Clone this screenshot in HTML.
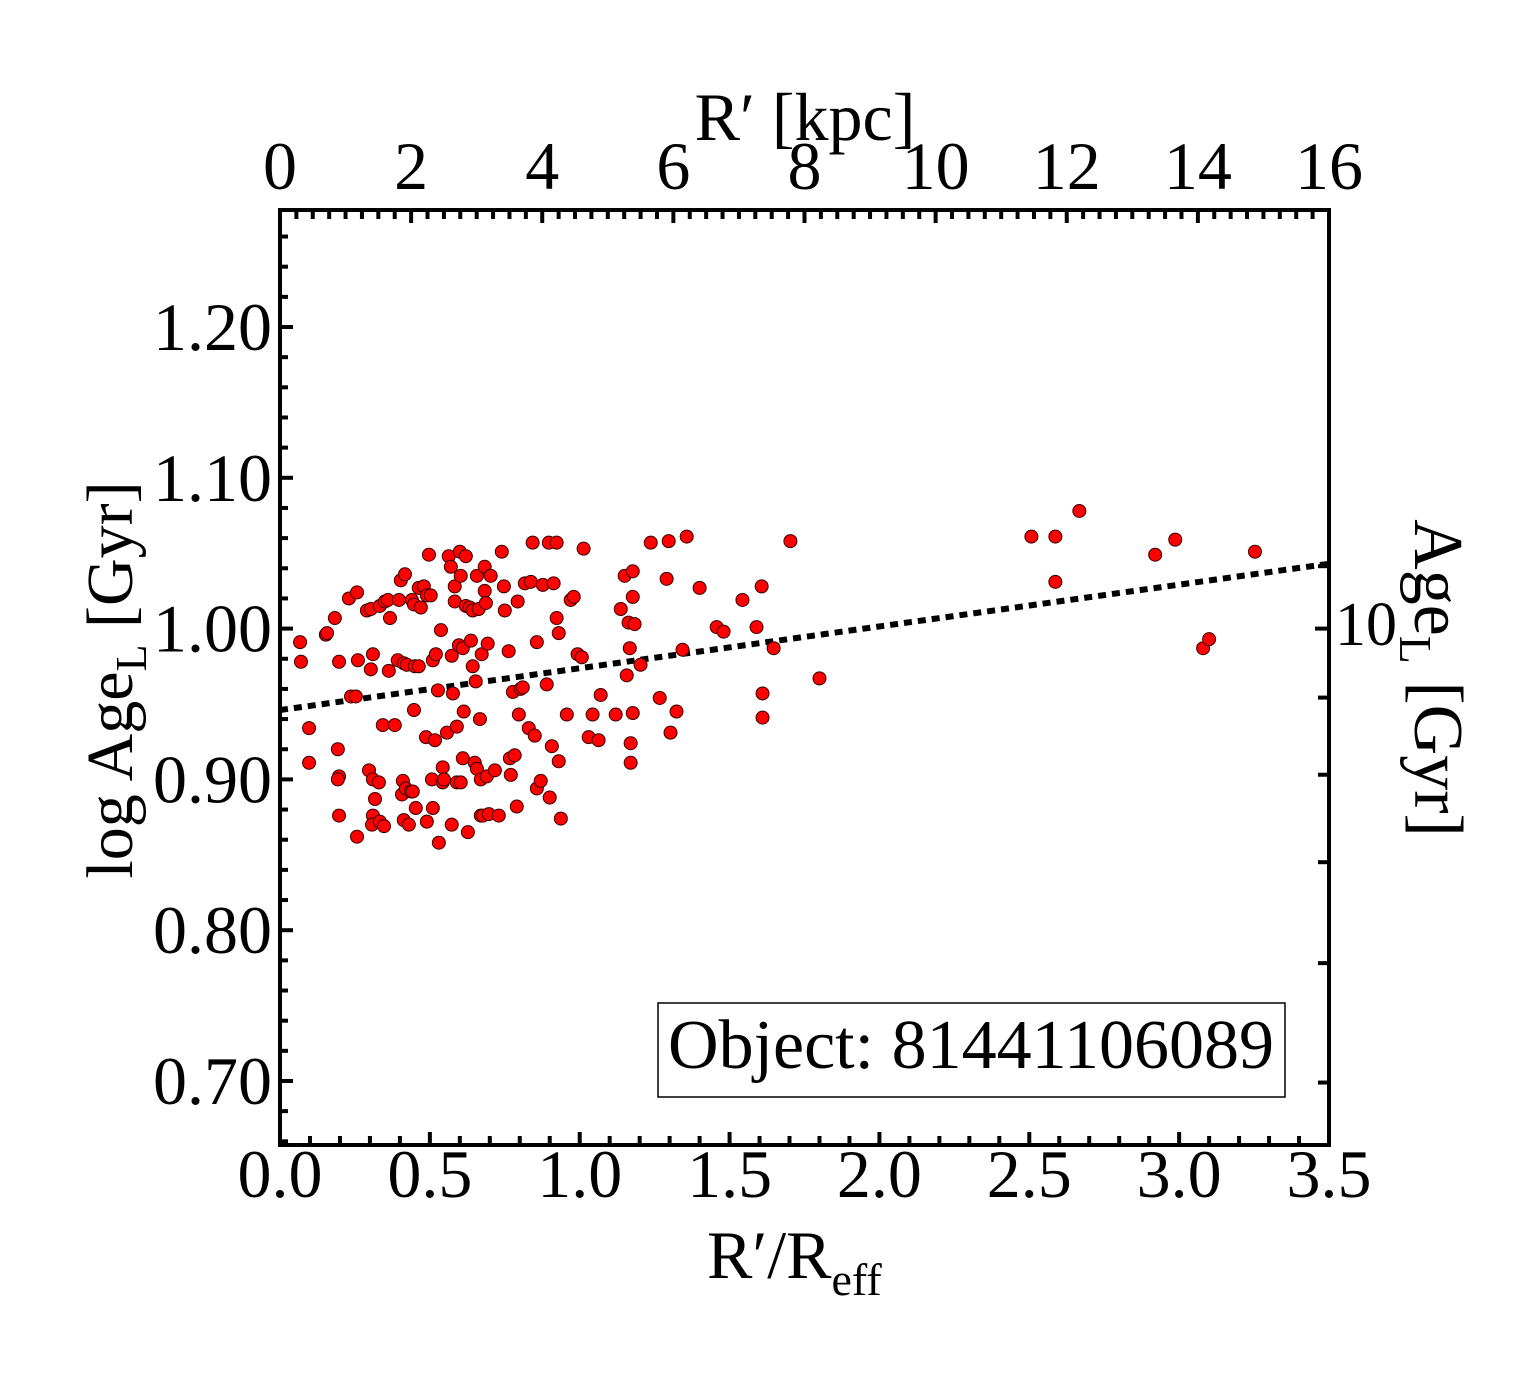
<!DOCTYPE html>
<html><head><meta charset="utf-8"><style>
body{margin:0;background:#fff}
svg{display:block;font-family:"Liberation Serif",serif}
</style></head><body>
<svg id="chart" width="1540" height="1375" viewBox="0 0 1540 1375" xmlns="http://www.w3.org/2000/svg"></svg>
<script>
const xs=[.067,.070,.097,.097,.153,.157,.183,.197,.193,.197,.193,.197,.230,.237,.253,.257,.260,.257,.290,.303,.310,.303,.297,.310,.310,.307,.317,.330,.333,.333,.343,.347,.350,.363,.360,.367,.383,.393,.397,.403,.407,.410,.417,.413,.413,.423,.420,.430,.437,.443,.440,.447,.447,.450,.453,.463,.463,.470,.480,.487,.490,.490,.497,.503,.510,.507,.510,.517,.520,.527,.530,.537,.543,.543,.547,.557,.563,.570,.573,.573,.577,.583,.583,.590,.590,.597,.600,.603,.603,.610,.610,.613,.620,.620,.627,.633,.637,.643,.643,.650,.653,.657,.657,.663,.667,.670,.670,.673,.677,.683,.683,.687,.690,.693,.697,.703,.717,.730,.740,.747,.750,.763,.767,.770,.777,.783,.790,.793,.797,.803,.810,.817,.830,.837,.843,.850,.857,.857,.870,.877,.890,.897,.900,.907,.913,.923,.923,.930,.930,.937,.957,.970,.980,.993,1.007,1.013,1.030,1.043,1.063,1.070,1.120,1.137,1.150,1.157,1.163,1.167,1.170,1.170,1.177,1.177,1.177,1.183,1.203,1.237,1.267,1.290,1.297,1.303,1.323,1.343,1.357,1.400,1.457,1.480,1.543,1.590,1.607,1.610,1.610,1.647,1.703,1.800,2.507,2.587,2.587,2.667,2.920,2.987,3.080,3.100,3.253];
const ys=[.991,.978,.934,.911,.996,.997,1.007,.978,.920,.902,.900,.876,1.020,.955,.955,1.024,.979,.862,1.012,1.013,.983,.973,.906,.900,.876,.870,.887,.898,1.015,.872,.936,.869,1.018,.972,1.019,1.007,.936,.979,1.019,1.032,.890,.899,1.036,.977,.873,.976,.894,.870,.892,.892,1.019,.946,1.016,.975,.881,1.027,.975,1.014,1.028,.928,1.022,.872,1.049,1.022,.979,.900,.881,.926,.983,.959,.858,.999,.908,.898,.900,.931,1.048,1.041,.982,.870,.957,1.028,1.018,.935,.898,.989,1.051,1.035,.898,.914,.987,.945,1.048,1.015,.865,1.014,.992,1.012,.975,.911,.965,.907,1.035,1.013,.940,.876,.900,.983,.876,1.041,1.025,1.017,.902,.990,.877,1.035,.906,.876,1.051,1.028,1.012,.985,.914,.903,.958,.916,.882,1.018,.943,.960,.961,1.030,.934,1.031,1.057,.929,.991,.894,.899,1.029,.963,1.057,.888,.922,1.030,1.057,1.007,.997,.912,.874,.943,1.019,1.021,.983,.981,1.053,.928,.943,.926,.956,.943,1.013,1.035,.969,1.004,.987,.924,.911,1.021,1.038,.944,1.003,.976,1.057,.954,1.033,1.058,.931,.945,.986,1.061,1.027,1.001,.998,1.019,1.001,1.028,.957,.941,.987,1.058,.967,1.061,1.061,1.031,1.078,1.049,1.059,.987,.993,1.051];
const fitX=[0,3.5], fitY=[0.946,1.043];
const xTicks=[0,0.5,1,1.5,2,2.5,3,3.5], xTickLabels=["0.0","0.5","1.0","1.5","2.0","2.5","3.0","3.5"];
const yTicks=[0.7,0.8,0.9,1.0,1.1,1.2], yTickLabels=["0.70","0.80","0.90","1.00","1.10","1.20"];
const kpcTicks=[0,2,4,6,8,10,12,14,16];
const ageTicks=[5,6,7,8,9,10,11];
const L=280,R=1329,T=210,B=1145;
const X=v=>L+v*(R-L)/3.5;
const Y=v=>327+(1.2-v)*1508;
const K=v=>L+v*(R-L)/16;
const svg=document.getElementById('chart');
const NS='http://www.w3.org/2000/svg';
function mk(tag,attrs,parent){const e=document.createElementNS(NS,tag);for(const k in attrs)e.setAttribute(k,attrs[k]);(parent||svg).appendChild(e);return e;}
function tick(x1,y1,x2,y2){const e=mk('line',{x1,y1,x2,y2,stroke:'#000','stroke-width':4});

}
for(let i=0;i<=35;i++){const v=i/10,x=X(v),len=(i%5===0)?13:9;tick(x,B,x,B-len);}
for(let i=0;i<=64;i++){const v=i/4,x=K(v),len=(i%8===0)?13:9;tick(x,T,x,T+len);}
for(let i=0;i<=31;i++){const v=0.66+i*0.02,y=Y(v);if(y<T||y>B)continue;const len=(Math.round(v*100)%10===0)?13:8;tick(L,y,L+len,y);}
ageTicks.forEach(a=>{const y=Y(Math.log10(a));tick(R,y,R-(a===10?14:11),y);});
const fr=mk('rect',{x:L,y:T,width:R-L,height:B-T,fill:'none',stroke:'#000','stroke-width':4});


function txt(s,x,y,attrs,name){const e=mk('text',Object.assign({x,y,'font-size':68,'text-anchor':'middle',fill:'#000'},attrs||{}));e.textContent=s;

return e;}
xTicks.forEach((v,i)=>txt(xTickLabels[i],X(v),1197,{},'x-tick-label'));
kpcTicks.forEach(v=>txt(String(v),K(v),189,{},'top-tick-label'));
yTicks.forEach((v,i)=>txt(yTickLabels[i],272,Y(v)+23,{'text-anchor':'end'},'y-tick-label'));
txt('10',1335,645,{'text-anchor':'start','font-size':62},'right-tick-label');
const fl=mk('line',{x1:X(fitX[0]),y1:Y(fitY[0]),x2:X(fitX[1]),y2:Y(fitY[1]),stroke:'#000','stroke-width':6,'stroke-dasharray':'8 6'});


xs.forEach((v,i)=>{const c=mk('circle',{cx:X(v),cy:Y(ys[i]),r:6.5,fill:'#f00',stroke:'#300','stroke-width':1});

});
const lb=mk('rect',{x:658,y:1003,width:627,height:94,fill:'#fff',stroke:'#000','stroke-width':1.5});


txt('Object: 81441106089',971,1068,{'font-size':70},'legend-text');
const xt=mk('text',{x:707,y:1278,'font-size':68,'text-anchor':'start'});
xt.innerHTML='R\u2032/R<tspan font-size="46" dy="17">eff</tspan>';


txt('R\u2032 [kpc]',805,140,{},'top-axis-title');
const yl=mk('text',{transform:'translate(132,680) rotate(-90)','font-size':66,'text-anchor':'middle'});
yl.innerHTML='log Age<tspan font-size="44" dy="14">L</tspan><tspan dy="-14"> [Gyr]</tspan>';


const yr=mk('text',{transform:'translate(1415,678) rotate(90)','font-size':70,'text-anchor':'middle'});
yr.innerHTML='Age<tspan font-size="46" dy="15">L</tspan><tspan dy="-15"> [Gyr]</tspan>';


</script>
</body></html>
